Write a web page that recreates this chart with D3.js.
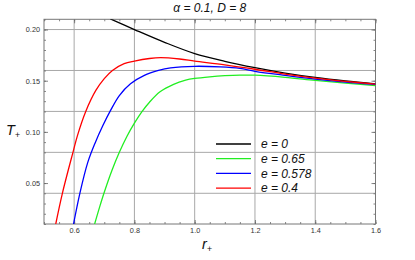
<!DOCTYPE html>
<html>
<head>
<meta charset="utf-8">
<script src="https://cdn.jsdelivr.net/npm/d3@7"></script>
<style>
  html, body { margin: 0; padding: 0; background: #fff; }
  svg { display: block; }
  text { font-family: "Liberation Sans", Arial, sans-serif; }
</style>
</head>
<body>
<svg id="chart" width="415" height="260"></svg>
<script>
// ---- data ----
const seriesNames = ["e = 0", "e = 0.65", "e = 0.578", "e = 0.4"];
const seriesColors = ["#000000", "#22ee22", "#0000ff", "#ff0000"];

const rBlack = [0.72, 0.80, 0.90, 1.0, 1.1, 1.2, 1.3, 1.4, 1.5, 1.6];
const tBlack = [0.2104, 0.200, 0.1875, 0.1765, 0.169, 0.1628, 0.1575, 0.1532, 0.1498, 0.147];

const rGreen = [0.668, 0.685, 0.70, 0.725, 0.75, 0.775, 0.80, 0.825, 0.85, 0.885, 0.93, 0.97, 1.0, 1.05, 1.1, 1.15, 1.2, 1.3, 1.4, 1.5, 1.6];
const tGreen = [0.010, 0.027, 0.041, 0.062, 0.080, 0.0955, 0.1085, 0.1198, 0.129, 0.1392, 0.1465, 0.1505, 0.1522, 0.1538, 0.1549, 0.1555, 0.1554, 0.1533, 0.1503, 0.1476, 0.1451];

const rBlue = [0.598, 0.619, 0.645, 0.670, 0.695, 0.72, 0.75, 0.787, 0.833, 0.88, 0.92, 1.0, 1.085, 1.15, 1.2, 1.3, 1.4, 1.5, 1.6];
const tBlue = [0.010, 0.040, 0.070, 0.0895, 0.106, 0.1205, 0.1355, 0.147, 0.1552, 0.160, 0.1625, 0.1641, 0.1635, 0.162, 0.1592, 0.1552, 0.1516, 0.1487, 0.1464];

const rRed = [0.539, 0.561, 0.597, 0.611, 0.6385, 0.672, 0.70, 0.727, 0.766, 0.80, 0.85, 0.887, 0.95, 1.0, 1.1, 1.2, 1.3, 1.4, 1.5, 1.6];
const tRed = [0.010, 0.040, 0.081, 0.0964, 0.120, 0.1405, 0.152, 0.160, 0.1667, 0.1692, 0.1717, 0.1725, 0.1712, 0.1692, 0.1655, 0.1612, 0.1565, 0.1526, 0.1494, 0.1467];

const xMajor = [0.6, 0.8, 1.0, 1.2, 1.4, 1.6];
const xLabels = ["0.6", "0.8", "1.0", "1.2", "1.4", "1.6"];
const xMinor = d3.range(0.5, 1.6001, 0.05);
const yMajor = [0.05, 0.10, 0.15, 0.20];
const yLabels = ["0.05", "0.10", "0.15", "0.20"];
const yMinor = d3.range(0.01, 0.2101, 0.01);
const xGrid = [0.6, 0.8, 1.0, 1.2, 1.4];
const yGrid = [0.04, 0.08, 0.12, 0.16, 0.20];

const titleText = "α = 0.1, D = 8";

// ---- layout ----
const svg = d3.select("#chart");
const L = 44, R = 375.5, T = 19.3, B = 224;
const x = d3.scaleLinear().domain([0.5, 1.6]).range([L, R]);
const y = d3.scaleLinear().domain([0.01, 0.21]).range([B, T]);

svg.append("defs").append("clipPath").attr("id", "clip")
  .append("rect").attr("x", L).attr("y", T).attr("width", R - L).attr("height", B - T);

// grid
const grid = svg.append("g").attr("stroke", "#a8a8a8").attr("stroke-width", 1);
grid.selectAll("line.vx").data(xGrid).join("line")
  .attr("x1", d => x(d)).attr("x2", d => x(d)).attr("y1", T).attr("y2", B);
grid.selectAll("line.hy").data(yGrid).join("line")
  .attr("x1", L).attr("x2", R).attr("y1", d => y(d)).attr("y2", d => y(d));

// axes
function styleAxis(g) {
  g.select(".domain").remove();
  g.selectAll(".tick line").attr("stroke", "#666").attr("stroke-width", 0.8);
  g.selectAll(".tick text").attr("fill", "#333").style("font-size", "7.3px")
    .style("font-family", "'Liberation Sans', Arial, sans-serif");
}
svg.append("g").attr("transform", `translate(0,${B})`)
  .call(d3.axisBottom(x).tickValues(xMinor).tickSize(-2).tickFormat("")).call(styleAxis);
svg.append("g").attr("transform", `translate(0,${B})`)
  .call(d3.axisBottom(x).tickValues(xMajor).tickSize(-4).tickPadding(4)
    .tickFormat((d, i) => xLabels[i])).call(styleAxis);
svg.append("g").attr("transform", `translate(0,${T})`)
  .call(d3.axisTop(x).tickValues(xMinor).tickSize(-2).tickFormat("")).call(styleAxis);
svg.append("g").attr("transform", `translate(0,${T})`)
  .call(d3.axisTop(x).tickValues(xMajor).tickSize(-4).tickFormat("")).call(styleAxis);

svg.append("g").attr("transform", `translate(${L},0)`)
  .call(d3.axisLeft(y).tickValues(yMinor).tickSize(-2).tickFormat("")).call(styleAxis);
svg.append("g").attr("transform", `translate(${L},0)`)
  .call(d3.axisLeft(y).tickValues(yMajor).tickSize(-4).tickPadding(4)
    .tickFormat((d, i) => yLabels[i])).call(styleAxis);
svg.append("g").attr("transform", `translate(${R},0)`)
  .call(d3.axisRight(y).tickValues(yMinor).tickSize(-2).tickFormat("")).call(styleAxis);
svg.append("g").attr("transform", `translate(${R},0)`)
  .call(d3.axisRight(y).tickValues(yMajor).tickSize(-4).tickFormat("")).call(styleAxis);

// frame
svg.append("rect").attr("x", L).attr("y", T).attr("width", R - L).attr("height", B - T)
  .attr("fill", "none").attr("stroke", "#777").attr("stroke-width", 1);

// curves
const series = [
  {r: rBlack, t: tBlack},
  {r: rGreen, t: tGreen},
  {r: rBlue, t: tBlue},
  {r: rRed, t: tRed}
];
const line = d3.line().x(d => x(d[0])).y(d => y(d[1])).curve(d3.curveCatmullRom.alpha(0.5));
const curves = svg.append("g").attr("clip-path", "url(#clip)");
series.forEach((s, i) => {
  curves.append("path")
    .attr("d", line(s.r.map((r, j) => [r, s.t[j]])))
    .attr("fill", "none").attr("stroke", seriesColors[i]).attr("stroke-width", 1.3)
    .attr("stroke-linejoin", "round");
});

// legend
const legY = [144, 158.7, 173.4, 188.1];
const leg = svg.append("g");
seriesNames.forEach((name, i) => {
  leg.append("line").attr("x1", 216).attr("x2", 251).attr("y1", legY[i]).attr("y2", legY[i])
    .attr("stroke", seriesColors[i]).attr("stroke-width", 1.3);
  leg.append("text").attr("x", 261).attr("y", legY[i] + 4.3)
    .style("font-size", "12px").style("font-style", "italic").attr("fill", "#111").text(name);
});

// title
svg.append("text").attr("x", (L + R) / 2).attr("y", 11.5).attr("text-anchor", "middle")
  .style("font-size", "12px").style("font-style", "italic").attr("fill", "#111").text(titleText);

// axis labels
const yl = svg.append("text").attr("x", 6).attr("y", 135)
  .style("font-size", "14.5px").style("font-style", "italic").attr("fill", "#111");
yl.append("tspan").text("T");
yl.append("tspan").attr("dy", 2.5).style("font-size", "9px").text("+");

const xl = svg.append("text").attr("x", 202).attr("y", 249)
  .style("font-size", "14.5px").style("font-style", "italic").attr("fill", "#111");
xl.append("tspan").text("r");
xl.append("tspan").attr("dy", 2.5).style("font-size", "9px").text("+");
</script>
</body>
</html>
